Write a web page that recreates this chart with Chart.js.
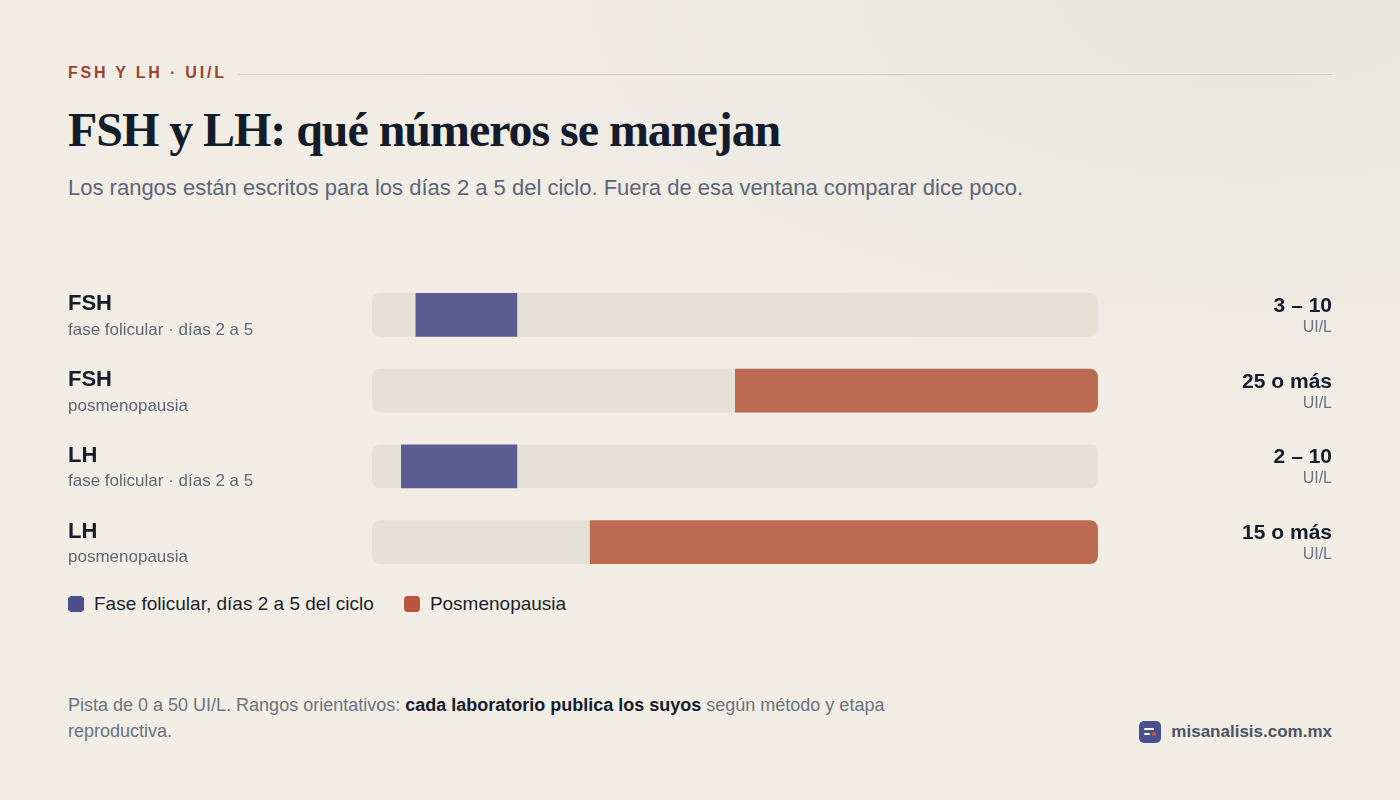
<!DOCTYPE html>
<html lang="es">
<head>
<meta charset="utf-8">
<title>FSH y LH</title>
<script src="https://cdn.jsdelivr.net/npm/chart.js@4.4.1/dist/chart.umd.min.js"></script>
<style>
  html, body { margin: 0; padding: 0; }
  body {
    width: 1400px; height: 800px; overflow: hidden; position: relative;
    font-family: "Liberation Sans", Arial, sans-serif;
    background: radial-gradient(ellipse 900px 420px at 1250px 0px, #e9e6e2 0%, rgba(240,236,228,0) 100%), #f1ede5;
    color: #151c2a;
  }
  .eyebrow {
    position: absolute; left: 68px; top: 64px; font-size: 16px; font-weight: 700;
    letter-spacing: 2.8px; color: #9b4330; line-height: 18px;
  }
  .rule { position: absolute; left: 238px; right: 68px; top: 74px; height: 1px; background: #cfcdc8; }
  h1 {
    position: absolute; left: 68px; top: 98px; margin: 0;
    font-family: "Liberation Serif", "Times New Roman", serif; font-size: 48px; font-weight: 700;
    color: #141c2b; line-height: 64px; letter-spacing: -1.05px;
  }
  .sub { position: absolute; left: 68px; top: 174px; font-size: 22px; color: #5c6676; line-height: 28px; }
  #wrap { position: absolute; left: 68px; top: 277px; width: 1264px; height: 303px; }
  .legend { position: absolute; left: 68px; top: 593px; display: flex; align-items: center; font-size: 19px; color: #1a1f2b; }
  .legend .item { display: flex; align-items: center; margin-right: 30px; }
  .legend .sw { width: 16px; height: 16px; border-radius: 4px; margin-right: 10px; }
  .foot { position: absolute; left: 68px; top: 692px; width: 840px; font-size: 18px; line-height: 26px; color: #6b7280; }
  .foot b { color: #151c2a; }
  .brand { position: absolute; right: 68px; top: 721px; display: flex; align-items: center; font-size: 17px; font-weight: 700; color: #4b5563; }
  .logo { width: 22px; height: 22px; border-radius: 5px; background: #4a4f8f; position: relative; margin-right: 10px; }
  .logo i { position: absolute; height: 2px; background: #fff; border-radius: 1px; left: 5px; }
  .logo em { position: absolute; width: 4px; height: 4px; border-radius: 2px; background: #d0583a; left: 13px; top: 11px; }
</style>
</head>
<body>
<div class="eyebrow">FSH Y LH · UI/L</div>
<div class="rule"></div>
<h1>FSH y LH: qué números se manejan</h1>
<div class="sub">Los rangos están escritos para los días 2 a 5 del ciclo. Fuera de esa ventana comparar dice poco.</div>
<div id="wrap"><canvas id="chart-range"></canvas></div>
<div class="legend" id="legend"></div>
<div class="foot">Pista de 0 a 50 UI/L. Rangos orientativos: <b>cada laboratorio publica los suyos</b> según método y etapa reproductiva.</div>
<div class="brand"><div class="logo"><i style="top:7px;width:10px"></i><i style="top:12px;width:6px"></i><em></em></div>misanalisis.com.mx</div>
<script>
// data
const hormones = ["FSH", "FSH", "LH", "LH"];
const phases = ["fase folicular · días 2 a 5", "posmenopausia", "fase folicular · días 2 a 5", "posmenopausia"];
const series = ["Fase folicular, días 2 a 5 del ciclo", "Posmenopausia"];
const seriesOfRow = [0, 1, 0, 1];
const lows = [3, 25, 2, 15];
const highs = [10, 50, 10, 50];
const rangeLabels = ["3 – 10", "25 o más", "2 – 10", "15 o más"];
const unit = "UI/L";
const trackMax = 50;

const barColors = ["#5b5c91", "#bd6a52"];
const swatchColors = ["#4b4f8e", "#b9553c"];

var legendEl = document.getElementById("legend");
series.forEach(function (s, k) {
  legendEl.innerHTML += '<div class="item"><span class="sw" style="background:' + swatchColors[k] + '"></span>' + s + "</div>";
});

var sideLabels = {
  id: "sideLabels",
  afterDatasetsDraw: function (chart) {
    var ctx = chart.ctx;
    var y = chart.scales.y;
    ctx.save();
    hormones.forEach(function (h, i) {
      var cy = y.getPixelForValue(i);
      ctx.textBaseline = "alphabetic";
      ctx.textAlign = "left";
      ctx.fillStyle = "#151c2a";
      ctx.font = "bold 22px 'Liberation Sans', Arial, sans-serif";
      ctx.fillText(h, 0, cy - 4.5);
      ctx.fillStyle = "#5f6877";
      ctx.font = "17px 'Liberation Sans', Arial, sans-serif";
      ctx.fillText(phases[i], 0, cy + 20);

      ctx.textAlign = "right";
      ctx.fillStyle = "#151c2a";
      ctx.font = "bold 21px 'Liberation Sans', Arial, sans-serif";
      ctx.fillText(rangeLabels[i], chart.width, cy - 3);
      ctx.fillStyle = "#6b7280";
      ctx.font = "16px 'Liberation Sans', Arial, sans-serif";
      ctx.fillText(unit, chart.width, cy + 17);
    });
    ctx.restore();
  }
};

var ctx2 = document.getElementById("chart-range").getContext("2d");

var rangeSets = series.map(function (s, k) {
  return {
    label: s,
    data: hormones.map(function (h, i) {
      return seriesOfRow[i] === k ? [lows[i], highs[i]] : null;
    }),
    backgroundColor: barColors[k],
    borderWidth: 0,
    borderSkipped: false,
    borderRadius: function (c) {
      var v = c.raw;
      if (v && v[1] >= trackMax) return { topLeft: 0, bottomLeft: 0, topRight: 8, bottomRight: 8 };
      return 0;
    },
    barPercentage: 0.58,
    categoryPercentage: 1,
    grouped: false
  };
});

new Chart(ctx2, {
  type: "bar",
  data: {
    labels: hormones.map(function (h, i) { return h + " " + phases[i]; }),
    datasets: [
      {
        label: "Pista",
        data: hormones.map(function () { return [0, trackMax]; }),
        backgroundColor: "#e5e1d6",
        borderWidth: 0,
        borderSkipped: false,
        borderRadius: 8,
        barPercentage: 0.58,
        categoryPercentage: 1,
        grouped: false,
        order: 2
      }
    ].concat(rangeSets.map(function (d) { d.order = 1; return d; }))
  },
  options: {
    indexAxis: "y",
    responsive: true,
    maintainAspectRatio: false,
    animation: false,
    layout: { padding: { left: 304, right: 234, top: 0, bottom: 0 } },
    plugins: {
      legend: { display: false },
      tooltip: { enabled: false }
    },
    scales: {
      x: { type: "linear", min: 0, max: trackMax, display: false },
      y: { display: false }
    }
  },
  plugins: [sideLabels]
});
</script>
</body>
</html>
